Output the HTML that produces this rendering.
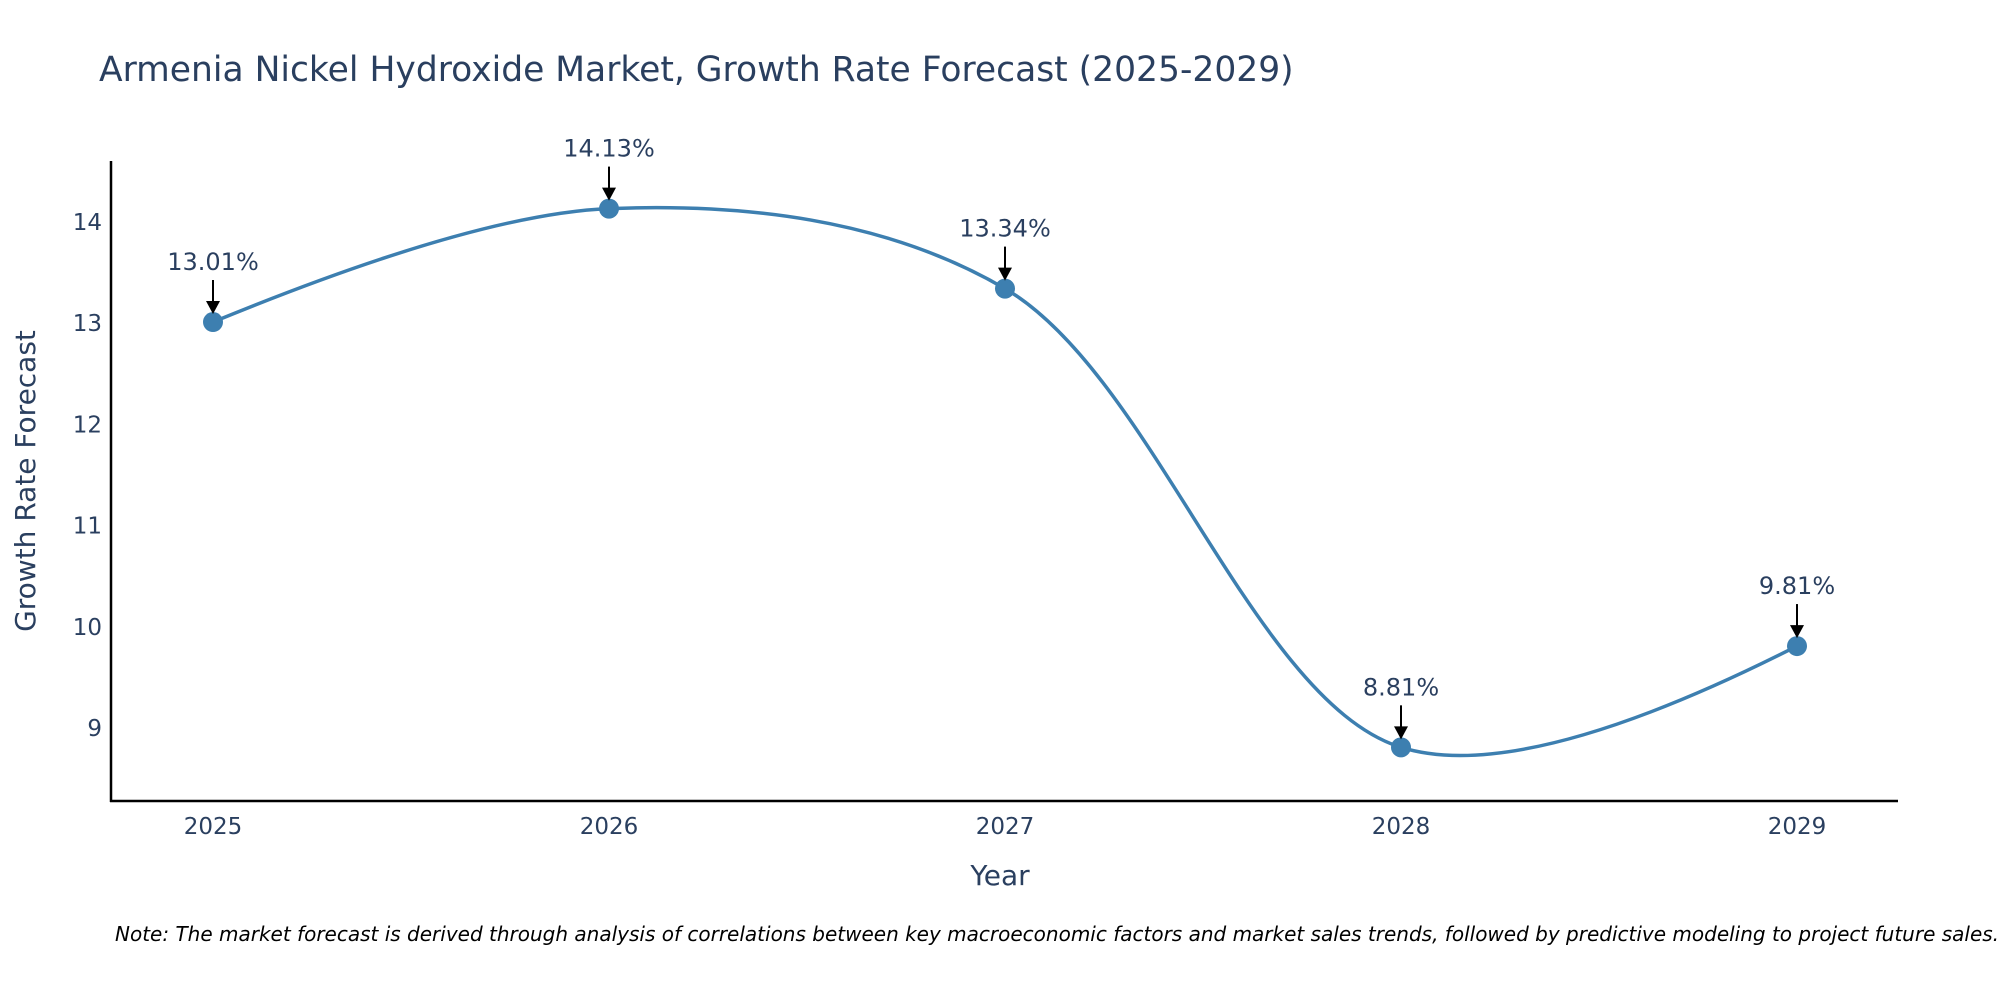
<!DOCTYPE html>
<html><head><meta charset="utf-8"><style>
body{margin:0;background:#fff;}
svg{display:block;font-family:"DejaVu Sans","Liberation Sans",sans-serif;}
</style></head><body>
<svg width="2000" height="1000">
<text x="99" y="81" font-size="34.5" fill="#2a3f5f">Armenia Nickel Hydroxide Market, Growth Rate Forecast (2025-2029)</text>
<g id="axes"></g>
<g id="plot"></g>
<text x="1000" y="885" font-size="28" fill="#2a3f5f" text-anchor="middle">Year</text>
<text transform="translate(35,481) rotate(-90)" font-size="28" fill="#2a3f5f" text-anchor="middle">Growth Rate Forecast</text>
<text x="115" y="941" font-size="20" font-style="italic" fill="#000">Note: The market forecast is derived through analysis of correlations between key macroeconomic factors and market sales trends, followed by predictive modeling to project future sales.</text>
</svg>
<script>
const years=["2025","2026","2027","2028","2029"];
const values=[13.01,14.13,13.34,8.81,9.81];
const labels=["13.01%","14.13%","13.34%","8.81%","9.81%"];
const yTicks=[9,10,11,12,13,14];
const NS="http://www.w3.org/2000/svg";
const L=111,R=1898,T=161,B=801;
const x0=213,dx=396;
const yMin=8.28,yMax=14.6;
const xs=i=>x0+i*dx;
const ys=v=>B-(v-yMin)/(yMax-yMin)*(B-T);
function mk(tag,attrs,parent){const e=document.createElementNS(NS,tag);for(const k in attrs)e.setAttribute(k,attrs[k]);parent.appendChild(e);return e;}
const axes=document.getElementById('axes'),plot=document.getElementById('plot');
let e=mk('line',{x1:L,y1:T,x2:L,y2:B+1,stroke:'#000','stroke-width':2.5},axes);


e=mk('line',{x1:L-1,y1:B,x2:R,y2:B,stroke:'#000','stroke-width':2.5},axes);


yTicks.forEach(t=>{const tx=mk('text',{x:102,y:ys(t)+8,'font-size':23,fill:'#2a3f5f','text-anchor':'end'},axes);tx.textContent=t;

});
years.forEach((y,i)=>{const tx=mk('text',{x:xs(i),y:834,'font-size':23,fill:'#2a3f5f','text-anchor':'middle'},axes);tx.textContent=y;

});
const pts=values.map((v,i)=>[xs(i),ys(v)]);
function tang(p,c,n,s){const d1x=p[0]-c[0],d1y=p[1]-c[1],d2x=n[0]-c[0],d2y=n[1]-c[1];
const d1a=Math.pow(d1x*d1x+d1y*d1y,0.25),d2a=Math.pow(d2x*d2x+d2y*d2y,0.25);
const nx=(d2a*d2a*d1x-d1a*d1a*d2x)*s,ny=(d2a*d2a*d1y-d1a*d1a*d2y)*s;
const den1=3*d2a*(d1a+d2a),den2=3*d1a*(d1a+d2a);
return [[c[0]+nx/den1,c[1]+ny/den1],[c[0]-nx/den2,c[1]-ny/den2]];}
const tg=[];for(let i=1;i<pts.length-1;i++)tg.push(tang(pts[i-1],pts[i],pts[i+1],1));
let d=`M${pts[0]}Q${tg[0][0]} ${pts[1]}`;
for(let i=1;i<pts.length-2;i++)d+=`C${tg[i-1][1]} ${tg[i][0]} ${pts[i+1]}`;
d+=`Q${tg[tg.length-1][1]} ${pts[pts.length-1]}`;
e=mk('path',{d:d,fill:'none',stroke:'#3d7fb0','stroke-width':3.5},plot);


pts.forEach((p,i)=>{
const c=mk('circle',{cx:p[0],cy:p[1],r:10,fill:'#3d7fb0'},plot);


const a=mk('line',{x1:p[0],y1:p[1]-42,x2:p[0],y2:p[1]-20,stroke:'#000','stroke-width':2},plot);


const h=mk('path',{d:`M${p[0]-7},${p[1]-21}L${p[0]+7},${p[1]-21}L${p[0]},${p[1]-8}Z`,fill:'#000'},plot);


const t=mk('text',{x:p[0],y:p[1]-52,'font-size':24,fill:'#2a3f5f','text-anchor':'middle'},plot);t.textContent=labels[i];


});
</script>
</body></html>
